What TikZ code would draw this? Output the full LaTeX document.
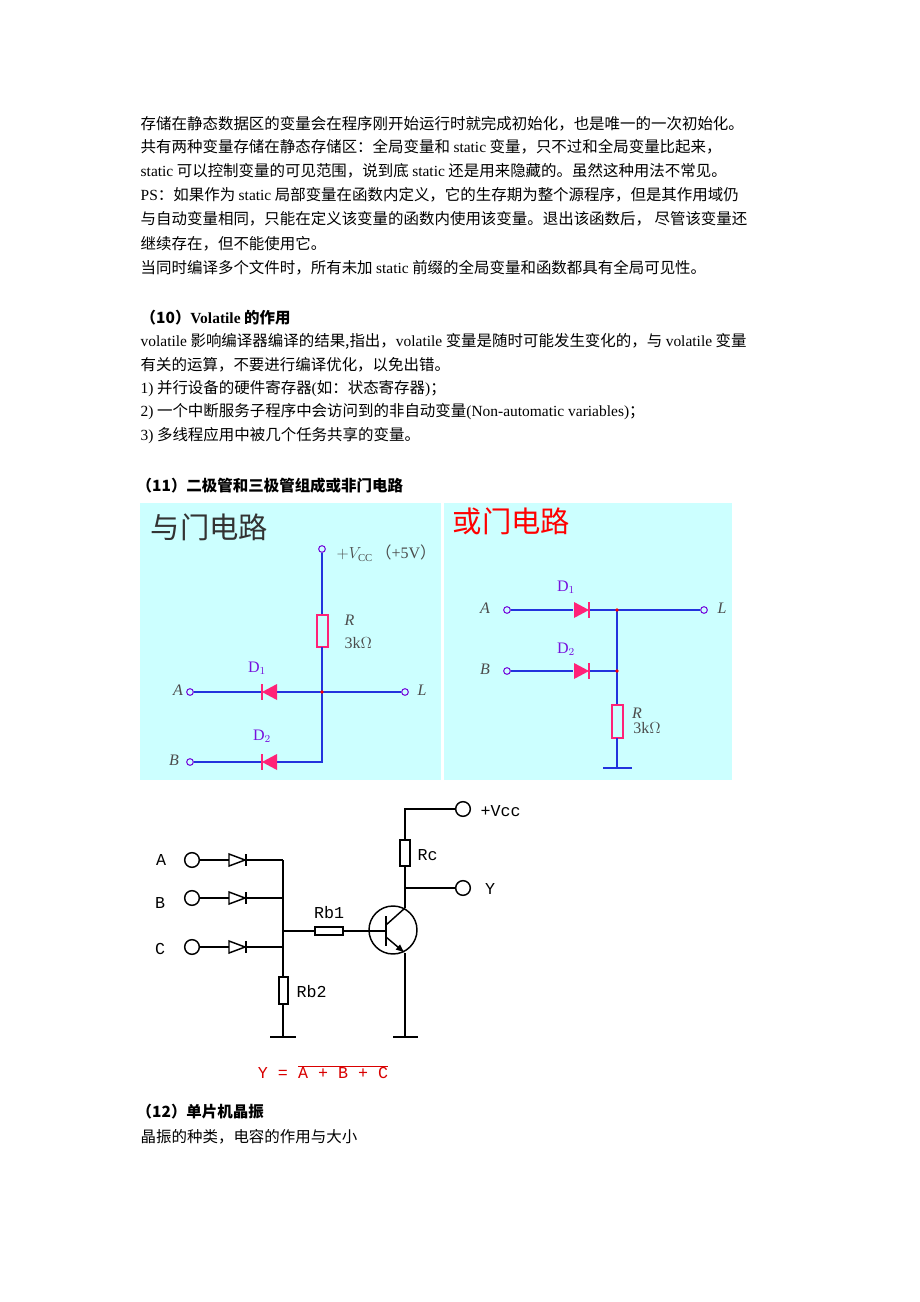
\documentclass[tikz,border=0pt]{standalone}
\usepackage{fontspec}
\setmainfont{Liberation Serif}
\setmonofont{Liberation Mono}
\newfontfamily\cjk{Noto Sans CJK SC}
\usetikzlibrary{arrows.meta}
\definecolor{panelbg}{HTML}{CCFFFF}
\definecolor{wireblue}{HTML}{2233DD}
\definecolor{diodepink}{HTML}{FF2277}
\definecolor{labpurple}{HTML}{7711DD}
\newcommand{\lat}[1]{{\rmfamily #1}}
\tikzset{
  line/.style={anchor=west, font=\fontsize{11.6}{13}\selectfont\cjk},
  wire/.style={wireblue, line width=1.2pt},
  bw/.style={black, line width=1.1pt},
  term/.style={circle, draw=labpurple, line width=0.8pt, inner sep=0pt, minimum size=5pt, fill=panelbg},
  bterm/.style={circle, draw=black, line width=1.1pt, inner sep=0pt, minimum size=11pt, fill=white},
  lab/.style={font=\fontsize{12}{13}\selectfont\itshape, text=black!70},
  dlab/.style={font=\fontsize{12}{13}\selectfont, text=labpurple},
  mlab/.style={font=\fontsize{12.5}{13}\selectfont\ttfamily}
}
\begin{document}
\begin{tikzpicture}[x=0.75pt, y=-0.75pt]
  \useasboundingbox[fill=white] (0,0) rectangle (920,1302);

  % text lines
  \node[line] (t1) at (136,124) {存储在静态数据区的变量会在程序刚开始运行时就完成初始化，也是唯一的一次初始化。};
  \node[line] (t2) at (136,147) {共有两种变量存储在静态存储区：全局变量和 \lat{static} 变量，只不过和全局变量比起来，};
  \node[line] (t3) at (136,171) {\lat{static} 可以控制变量的可见范围，说到底 \lat{static} 还是用来隐藏的。虽然这种用法不常见。};
  \node[line] (t4) at (136,195) {\lat{PS}：如果作为 \lat{static} 局部变量在函数内定义，它的生存期为整个源程序，但是其作用域仍};
  \node[line] (t5) at (136,219) {与自动变量相同，只能在定义该变量的函数内使用该变量。退出该函数后，\ 尽管该变量还};
  \node[line] (t6) at (136,244) {继续存在，但不能使用它。};
  \node[line] (t7) at (136,268) {当同时编译多个文件时，所有未加 \lat{static} 前缀的全局变量和函数都具有全局可见性。};
  \node[line] (h10) at (136,318) {\bfseries（10）\lat{\bfseries Volatile} 的作用};
  \node[line] (t8) at (136,341) {\lat{volatile}\ 影响编译器编译的结果,指出，\lat{volatile} 变量是随时可能发生变化的，与 \lat{volatile} 变量};
  \node[line] (t9) at (136,365) {有关的运算，不要进行编译优化，以免出错。};
  \node[line] (t10) at (136,389) {\lat{1)} 并行设备的硬件寄存器\lat{(}如：状态寄存器\lat{)}；};
  \node[line] (t11) at (136,412) {\lat{2)} 一个中断服务子程序中会访问到的非自动变量\lat{(Non-automatic variables)}；};
  \node[line] (t12) at (136,436) {\lat{3)} 多线程应用中被几个任务共享的变量。};
  \node[line] (h11) at (132,486) {\bfseries（11）二极管和三极管组成或非门电路};
  \node[line] (h12) at (132,1112) {\bfseries（12）单片机晶振};
  \node[line] (t13) at (136,1137) {晶振的种类，电容的作用与大小};

  % panels
  \fill[panelbg] (140,503) rectangle (441,780);
  \fill[panelbg] (444,503) rectangle (732,780);

  % AND gate
  \node[anchor=west, font=\fontsize{22}{24}\selectfont\cjk, text=black!80] (andt) at (146,527) {与门电路};
  \node[term] (vcc) at (322,549) {};
  \node[anchor=west, font=\fontsize{12}{13}\selectfont, text=black!70] (vccl) at (332,553) {$+V_{\mathrm{CC}}$\,{\cjk（}+5V{\cjk）}};
  \draw[wire] (vcc) -- (322,615);
  \draw[diodepink, line width=0.9pt] (317,615) rectangle (328,647);
  \draw[wire] (322,647) -- (322,762) -- (276,762);
  \node[lab, anchor=west] (rl) at (340,620) {R};
  \node[font=\fontsize{12}{13}\selectfont, text=black!70, anchor=west] (rv) at (340,643) {3k$\Omega$};
  \node[term] (ain) at (190,692) {};
  \node[term] (lout) at (405,692) {};
  \node[term] (bin) at (190,762) {};
  \draw[wire] (ain) -- (262,692);
  \draw[wire] (276,692) -- (lout);
  \draw[wire] (bin) -- (262,762);
  \foreach \yy in {692,762} {
    \fill[diodepink] (262,\yy) -- (277,\yy-8) -- (277,\yy+8) -- cycle;
    \draw[diodepink, line width=1.2pt] (262,\yy-8) -- (262,\yy+8);
  }
  \fill[red] (322,692) circle (1.8);
  \node[lab] (al) at (178,690) {A};
  \node[lab] (bl) at (174,760) {B};
  \node[lab] (ll) at (422,690) {L};
  \node[dlab] (d1l) at (257,668) {D$_1$};
  \node[dlab] (d2l) at (262,736) {D$_2$};

  % OR gate
  \node[anchor=west, font=\fontsize{22}{24}\selectfont\cjk, text=red] (ort) at (448,521) {或门电路};
  \node[term] (oain) at (507,610) {};
  \node[term] (obin) at (507,671) {};
  \node[term] (olout) at (704,610) {};
  \draw[wire] (oain) -- (573,610);
  \draw[wire] (589,610) -- (olout);
  \draw[wire] (obin) -- (573,671);
  \draw[wire] (589,671) -- (617,671);
  \draw[wire] (617,610) -- (617,705);
  \draw[diodepink, line width=0.9pt] (612,705) rectangle (623,738);
  \draw[wire] (617,738) -- (617,768);
  \draw[wire] (603,768) -- (632,768);
  \foreach \yy in {610,671} {
    \fill[diodepink] (589,\yy) -- (574,\yy-8) -- (574,\yy+8) -- cycle;
    \draw[diodepink, line width=1.2pt] (589,\yy-8) -- (589,\yy+8);
  }
  \fill[red] (617,610) circle (1.8);
  \fill[red] (617,671) circle (1.8);
  \node[lab] (oal) at (485,608) {A};
  \node[lab] (obl) at (485,669) {B};
  \node[lab] (oll) at (722,608) {L};
  \node[dlab] (od1l) at (566,587) {D$_1$};
  \node[dlab] (od2l) at (566,649) {D$_2$};
  \node[lab] (orl) at (637,713) {R};
  \node[font=\fontsize{12}{13}\selectfont, text=black!70] (orv) at (647,728) {3k$\Omega$};

  % NOR gate
  \node[bterm] (na) at (192,860) {};
  \node[bterm] (nb) at (192,898) {};
  \node[bterm] (nc) at (192,947) {};
  \node[mlab] (nal) at (161,860) {A};
  \node[mlab] (nbl) at (160,903) {B};
  \node[mlab] (ncl) at (160,949) {C};
  \foreach \nn/\yy in {na/860,nb/898,nc/947} {
    \draw[bw] (\nn) -- (229,\yy);
    \draw[bw] (229,\yy-6) -- (245,\yy) -- (229,\yy+6) -- cycle;
    \draw[bw] (246,\yy-6) -- (246,\yy+6);
    \draw[bw] (246,\yy) -- (283,\yy);
  }
  \draw[bw] (283,860) -- (283,977);
  \draw[bw] (279,977) rectangle (288,1004);
  \draw[bw] (283,1004) -- (283,1037);
  \draw[bw] (270,1037) -- (296,1037);
  \node[mlab, anchor=west] (rb2l) at (292,992) {Rb2};
  \draw[bw] (283,931) -- (315,931);
  \draw[bw] (315,927) rectangle (343,935);
  \node[mlab] (rb1l) at (329,913) {Rb1};
  \draw[bw] (343,931) -- (386,931);
  \draw[bw] (393,930) circle (24);
  \draw[black, line width=2pt] (386,916) -- (386,946);
  \draw[bw] (386,925) -- (405,908);
  \draw[bw, -{Latex[length=7pt]}] (386,937) -- (405,953);
  \draw[bw] (405,953) -- (405,1037);
  \draw[bw] (393,1037) -- (418,1037);
  \node[bterm] (nvcc) at (463,809) {};
  \node[bterm] (ny) at (463,888) {};
  \draw[bw] (405,908) -- (405,866);
  \draw[bw] (400,840) rectangle (410,866);
  \draw[bw] (405,840) -- (405,809) -- (nvcc);
  \draw[bw] (405,888) -- (ny);
  \node[mlab, anchor=west] (rcl) at (413,855) {Rc};
  \node[mlab, anchor=west] (vccn) at (476,811) {+Vcc};
  \node[mlab] (yl) at (490,889) {Y};
  \node[mlab, text=red!85!black] (form) at (323,1072) {Y = $\overline{\texttt{A + B + C}}$};
\end{tikzpicture}
\end{document}
